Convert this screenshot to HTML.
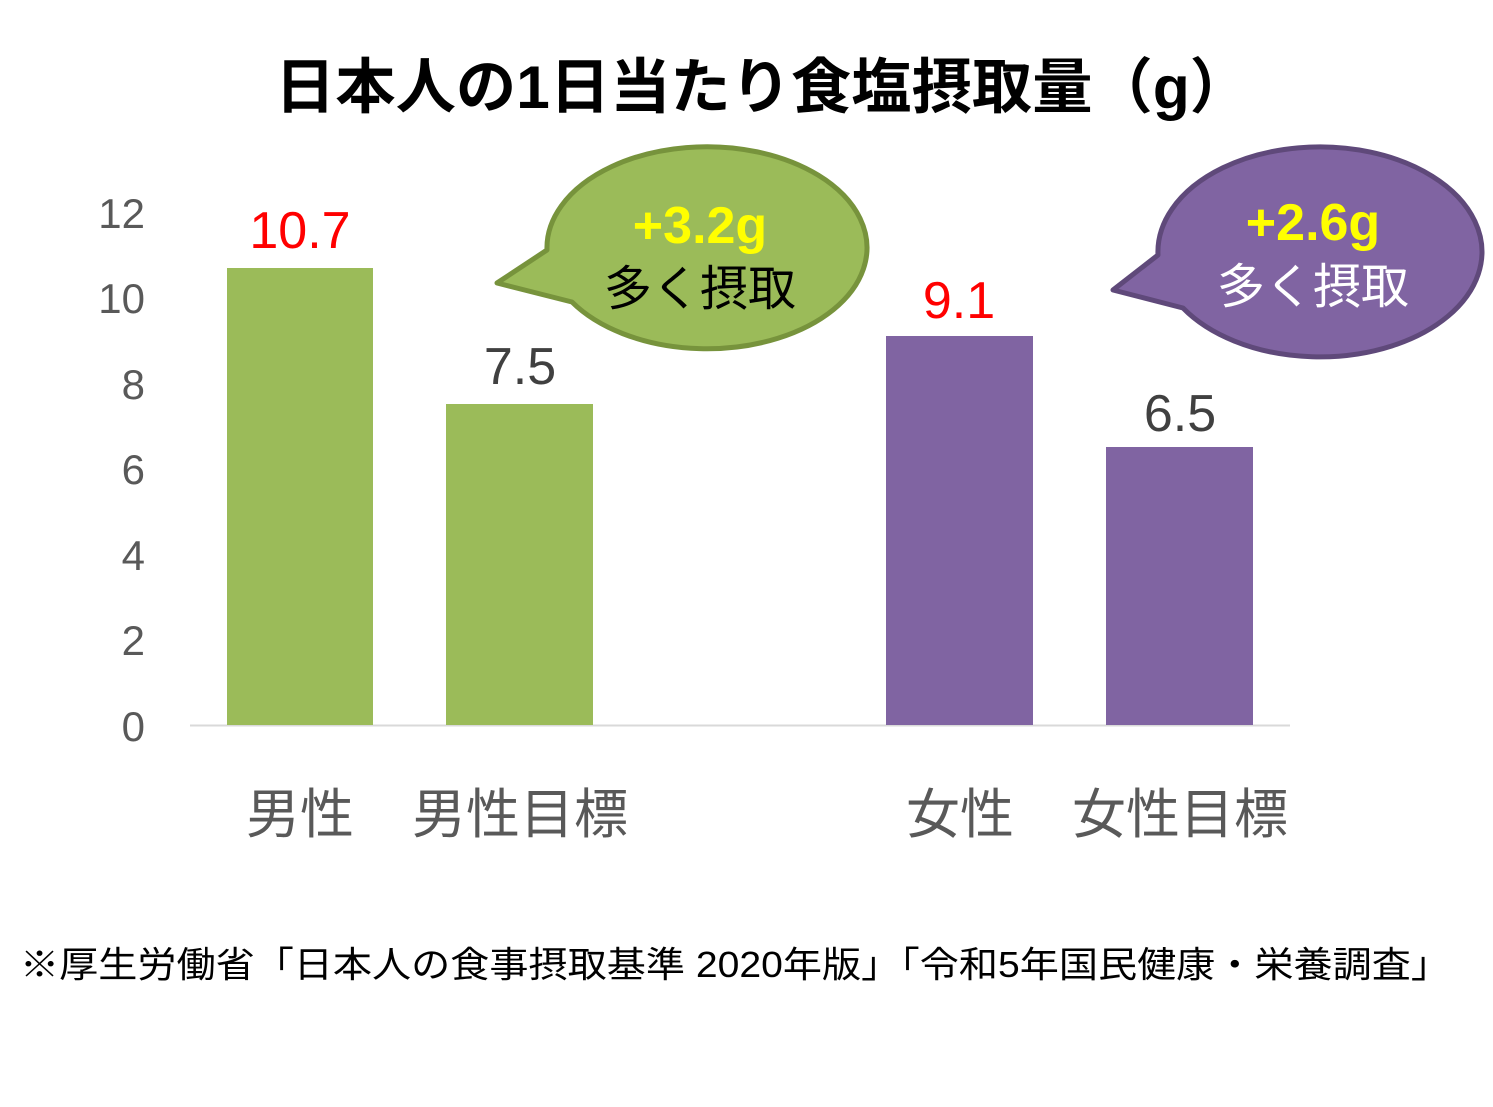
<!DOCTYPE html>
<html><head><meta charset="utf-8"><style>
body{margin:0;background:#fff;}
svg{display:block;font-family:"Liberation Sans","Noto Sans CJK JP",sans-serif;}
</style></head><body>
<svg width="1493" height="1107" viewBox="0 0 1493 1107">
<rect width="1493" height="1107" fill="#fff"/>
<text x="275" y="108" textLength="975" lengthAdjust="spacingAndGlyphs" font-size="60" font-weight="bold" fill="#000">日本人の1日当たり食塩摂取量（g）</text>
<g font-size="42" fill="#595959" text-anchor="end">
<text x="145" y="228">12</text><text x="145" y="313">10</text><text x="145" y="399">8</text>
<text x="145" y="484">6</text><text x="145" y="570">4</text><text x="145" y="655">2</text><text x="145" y="741">0</text>
</g>
<line x1="190" y1="725.5" x2="1290" y2="725.5" stroke="#d9d9d9" stroke-width="2"/>
<rect x="227" y="268" width="146" height="457" fill="#9bbb59"/>
<rect x="446" y="404" width="147" height="321" fill="#9bbb59"/>
<rect x="886" y="336" width="147" height="389" fill="#8064a2"/>
<rect x="1106" y="447" width="147" height="278" fill="#8064a2"/>
<g font-size="52" text-anchor="middle">
<text x="300" y="248" fill="#ff0000">10.7</text>
<text x="520" y="384" fill="#404040">7.5</text>
<text x="959" y="318" fill="#ff0000">9.1</text>
<text x="1180" y="431" fill="#404040">6.5</text>
</g>
<g font-size="54" fill="#595959" text-anchor="middle">
<text x="300" y="833">男性</text><text x="520" y="833">男性目標</text>
<text x="960" y="833">女性</text><text x="1180" y="833">女性目標</text>
</g>
<path d="M547,250 A160,101 0 1,1 572,302 L497,283 Z" fill="#9bbb59" stroke="#77933c" stroke-width="5" stroke-linejoin="round"/>
<path d="M1158,255 A162,105 0 1,1 1183,308 L1113,290 Z" fill="#8064a2" stroke="#5f497a" stroke-width="5" stroke-linejoin="round"/>
<g text-anchor="middle" font-weight="bold" font-size="52" fill="#ffff00">
<text x="700" y="243">+3.2g</text><text x="1313" y="240">+2.6g</text>
</g>
<g text-anchor="middle" font-size="48">
<text x="700" y="305" fill="#000">多く摂取</text><text x="1313" y="303" fill="#fff">多く摂取</text>
</g>
<text x="20" y="977" textLength="1430" lengthAdjust="spacingAndGlyphs" font-size="36" fill="#000">※厚生労働省「日本人の食事摂取基準 2020年版」「令和5年国民健康・栄養調査」</text>
</svg>
</body></html>
